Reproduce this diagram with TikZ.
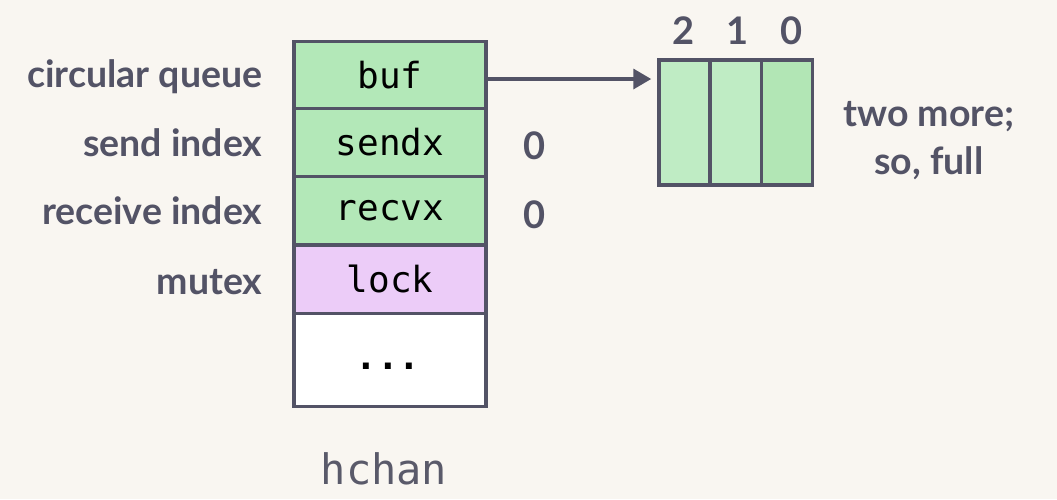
\documentclass[tikz,border=0pt]{standalone}
\usepackage{fontspec}
\setmainfont{Lato}
\newfontfamily\labelfont{Lato Bold}
\newfontfamily\codefont{DejaVu Sans Mono}
\newfontfamily\codeboldfont{DejaVu Sans Mono Bold}
\usetikzlibrary{arrows.meta}
\definecolor{bgc}{HTML}{F9F6F1}
\definecolor{ink}{HTML}{535366}
\definecolor{fieldgreen}{HTML}{B3E8B8}
\definecolor{slotlight}{HTML}{BFECC4}
\definecolor{slotdark}{HTML}{B2E6B5}
\definecolor{lockpurple}{HTML}{ECCCF8}
\definecolor{hchangrey}{HTML}{5A5A6A}
\tikzset{
  field/.style={draw=ink, line width=3.5pt, minimum width=192pt, inner sep=0pt,
    font=\codefont\fontsize{36}{36}\selectfont, text=black},
  slot/.style={draw=ink, line width=3.5pt, minimum width=51pt, minimum height=125pt, inner sep=0pt},
  sidelabel/.style={font=\labelfont\fontsize{37.5}{40}\selectfont, text=ink},
  numlabel/.style={font=\labelfont\fontsize{38}{38}\selectfont, text=ink},
}
\begin{document}
\begin{tikzpicture}[x=1pt,y=-1pt]
  \fill[bgc] (0,0) rectangle (1057,499);
  \useasboundingbox (0,0) rectangle (1057,499);

  % hchan struct fields
  \node[field, fill=fieldgreen, minimum height=67pt] (buf) at (390,75) {buf};
  \node[field, fill=fieldgreen, minimum height=68pt] (sendx) at (390,142.5) {sendx};
  \node[field, fill=fieldgreen, minimum height=68.5pt] (recvx) at (390,210.75) {recvx};
  \node[field, fill=lockpurple, minimum height=68.5pt] (lock) at (390,279.25) {lock};
  \node[field, fill=white, minimum height=93pt] (rest) at (390,360) {};
  \node[font=\codeboldfont\fontsize{36}{36}\selectfont, text=black] (dots) at (388,366) {...};

  \node[font=\codefont\fontsize{42}{42}\selectfont, text=hchangrey] (hchan) at (384,469) {hchan};

  % field descriptions
  \node[sidelabel, anchor=east] (lq) at (266,77) {circular queue};
  \node[sidelabel, anchor=east] (ls) at (266,143) {send index};
  \node[sidelabel, anchor=east] (lr) at (266,211) {receive index};
  \node[sidelabel, anchor=east] (lm) at (266,282) {mutex};

  % index values
  \node[numlabel] (vs) at (535,146) {0};
  \node[numlabel] (vr) at (535,215) {0};

  % ring buffer slots
  \node[slot, fill=slotlight] (s2) at (684.5,122.5) {};
  \node[slot, fill=slotlight] (s1) at (735.75,122.5) {};
  \node[slot, fill=slotdark] (s0) at (786.75,122.5) {};
  \node[numlabel] (n2) at (684,31) {2};
  \node[numlabel] (n1) at (738,31) {1};
  \node[numlabel] (n0) at (792,31) {0};

  \node[sidelabel, align=center, font=\labelfont\fontsize{37.5}{48}\selectfont] (note) at (929,141) {two more;\\so, full};

  % pointer from buf to the ring buffer
  \coordinate (bufout) at (buf.east |- 0,79);
  \coordinate (qin) at (s2.west |- 0,79);
  \draw[ink, line width=3.5pt, -{Triangle[length=18pt, width=20pt]}] (bufout) -- ([xshift=-6pt]qin);
\end{tikzpicture}
\end{document}
